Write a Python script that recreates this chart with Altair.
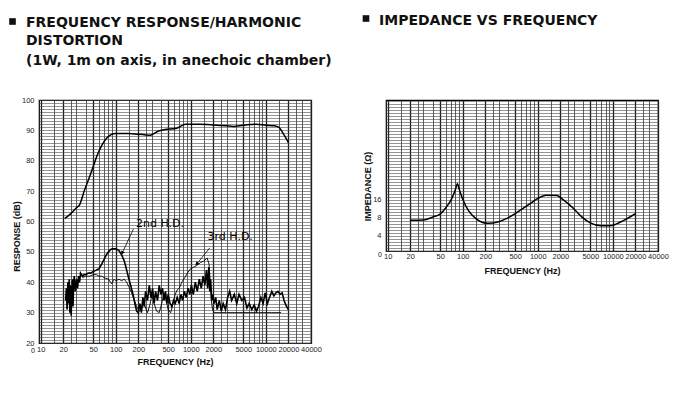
import altair as alt
import pandas as pd

FONT = "Liberation Sans"
TFONT = "DejaVu Sans"

# ---------------- data ----------------
resp_freq = [21, 25, 30, 33, 38, 46, 50, 56, 65, 76, 88, 100, 150, 200, 250, 290, 370,
             450, 650, 750, 850, 1000, 1300, 2000, 3000, 3700, 5000, 7500, 10000, 13000,
             15000, 17000, 20000]
resp_db = [61, 62.5, 64.5, 65.5, 70, 75.5, 78, 81.5, 85, 87.5, 88.7, 89, 89, 88.7, 88.5,
           88.4, 89.8, 90.3, 90.7, 91.5, 92, 92, 92, 91.8, 91.5, 91.3, 91.7, 92, 91.7, 91.5,
           91, 89, 86]

hd2_freq = [21.5, 22, 22.5, 23, 23.5, 24, 24.5, 25, 25.5, 26, 26.5, 27, 27.5, 28, 29, 30,
            31, 32, 33, 34, 36, 38, 40, 43, 46, 50, 55, 60, 65, 70, 75, 80, 85, 90, 100,
            110, 120, 130, 140, 150, 160, 170, 180, 190, 200,
            210, 220, 230, 240, 250, 265, 280, 295, 310, 325, 340, 360, 380, 400, 420, 440,
            460, 480, 500, 530, 560, 590, 620, 660, 700, 740, 780, 820, 870, 920, 970, 1020,
            1080, 1150, 1220, 1300, 1380, 1460, 1540, 1620, 1680, 1740, 1790, 1840, 1900,
            1960, 2050, 2150, 2250, 2400, 2550, 2700, 2900, 3100, 3300, 3500, 3800, 4100,
            4400, 4800, 5200, 5600, 6000, 6500, 7000, 7500, 8000, 8600, 9200, 9800, 10500,
            11200, 12000, 12800, 13600, 14500, 15500, 16500, 17500, 18500, 19500, 20000]
hd2_db = [34, 38, 31, 40, 33, 41, 30, 39, 29, 37, 41, 32, 40, 42, 37, 41,
          38, 42, 40, 43, 42, 42.5, 42.5, 43, 43, 43.5, 44, 44.5, 46, 47.5, 49, 50, 50.7, 51, 51,
          50.5, 49, 47, 44, 41, 38.5, 36, 33, 30.5, 30,
          33, 30, 35, 32, 37, 34, 39, 35, 38, 33, 37, 34, 39, 36, 38, 34,
          37, 33, 36, 33, 32, 34, 33, 35, 33, 36, 34, 37, 35, 38, 36, 39,
          36, 40, 37, 41, 38, 42, 39, 44, 38, 45, 37, 41, 34,
          36, 33, 35, 31, 34, 30.5, 33, 31, 35, 37, 34, 36, 33,
          36, 34, 35, 31.5, 33, 31, 32.5, 30.5, 32, 35, 33, 36.5, 33,
          35, 37, 35.5, 36.5, 37, 36, 36.5, 34, 32.5, 31.5, 31]

hd3_freq = [36, 40, 45, 50, 55, 60, 65, 70, 80, 88, 95, 100, 110, 120, 130, 140, 150, 160,
            175, 190, 205, 220, 235, 250, 265, 285, 305, 325, 350, 380, 410, 440, 470, 500,
            540, 580, 620, 660, 700, 760, 830, 900, 1000, 1100, 1200, 1350, 1500, 1650, 1750,
            1820, 1880, 1950, 2050, 3000, 5000, 8000, 12000, 16000]
hd3_db = [41.5, 42, 42, 42.5, 42.5, 42, 42, 41.5, 41, 39.5, 41, 40.5, 41, 40.5, 41, 40, 38.5,
          37, 34.5, 32, 30.5, 31, 34, 31.5, 30, 32.5, 36, 33, 30.5, 30, 33, 36.5, 34, 31,
          30, 33, 36, 37.5, 38, 40, 41.5, 43, 44.5, 45, 45.5, 46.5, 47, 48, 46,
          40, 34, 31, 30, 30, 30, 30, 30, 30]

imp_freq = [20, 30, 40, 50, 60, 70, 80, 85, 90, 100, 120, 150, 180, 220, 300, 400, 600, 800,
            1000, 1300, 1800, 2200, 3000, 4000, 5000, 7000, 9000, 11000, 14000, 20000]
imp_ohm = [7.3, 7.4, 8.3, 9.3, 12, 16, 24, 30, 24, 16.5, 10.5, 7.8, 6.8, 6.5, 6.9, 8.0, 11,
           14, 17, 19.2, 19, 16, 11.5, 8, 6.6, 5.9, 5.9, 6.3, 7.3, 9.4]

freq_labels = [10, 20, 50, 100, 200, 500, 1000, 2000, 5000, 10000, 20000, 40000]
db_labels = [20, 30, 40, 50, 60, 70, 80, 90, 100]
ohm_labels = [4, 8, 16]

title_left = ["FREQUENCY RESPONSE/HARMONIC", "DISTORTION", "(1W, 1m on axis, in anechoic chamber)"]
title_right = "IMPEDANCE VS FREQUENCY"

ann_text = ["2nd H.D.", "3rd H.D."]
ann_f = [390, 3350]
ann_db = [59.2, 55]
arrow_f1 = [172, 1790]
arrow_db1 = [57.5, 51.3]
arrow_f2 = [122, 1200]
arrow_db2 = [49.6, 46]

# ---------------- helpers ----------------
grid_mult = [1, 1.5, 2, 2.5, 3, 4, 5, 6, 7, 8, 9]
x_grid = sorted(set([m * 10 ** k for k in range(1, 5) for m in grid_mult if m * 10 ** k <= 40000]
                    + freq_labels))
lab_arr = "[" + ",".join(str(v) for v in freq_labels) + "]"
x_label_expr = f"indexof({lab_arr}, datum.value) >= 0 ? format(datum.value, 'd') : ''"
x_grid_width = {"condition": {"test": f"indexof({lab_arr}, datum.value) >= 0", "value": 1.3},
                "value": 0.7}

db_arr = "[" + ",".join(str(v) for v in db_labels) + "]"
ohm_arr = "[" + ",".join(str(v) for v in ohm_labels) + "]"

xscale = alt.Scale(type="log", domain=[9.5, 40000], nice=False)

W = 272
HL = 243
HR = 151


def xaxis(pad, ty):
    return alt.Axis(values=x_grid, labelExpr=x_label_expr, labelOverlap=False, labelFlush=False,
                    labelBound=False, ticks=False, domain=False, gridColor="#1a1a1a",
                    gridWidth=x_grid_width, labelPadding=pad, labelFontSize=7.5,
                    title="FREQUENCY (Hz)", titleFontSize=9, titleFontWeight="bold",
                    titleY=ty, titleBaseline="middle")


def text_at(txt, x, y, size=14, bold=True, align="left", font=TFONT):
    return alt.Chart(pd.DataFrame({"t": [txt]})).mark_text(
        font=font, fontSize=size, fontWeight="bold" if bold else "normal", align=align,
        baseline="middle", color="#111").encode(x=alt.value(x), y=alt.value(y), text="t:N")


def bullet(x, y):
    return alt.Chart(pd.DataFrame({"t": [0]})).mark_square(
        size=44, color="#111", opacity=1).encode(x=alt.value(x), y=alt.value(y))


# ---------------- left panel ----------------
resp_df = pd.DataFrame({"f": resp_freq, "v": resp_db})
hd2_df = pd.DataFrame({"f": hd2_freq, "v": hd2_db})
hd3_df = pd.DataFrame({"f": hd3_freq, "v": hd3_db})

yl_axis = alt.Axis(values=list(range(20, 101)),
                   labelExpr=f"indexof({db_arr}, datum.value) >= 0 ? datum.label : ''",
                   labelOverlap=False, ticks=False, domain=False, gridColor="#4a4a4a",
                   gridWidth=0.6, labelPadding=5, labelFontSize=7.5,
                   title="RESPONSE (dB)", titleFontSize=9, titleFontWeight="bold",
                   titleX=-18, titleY=136)
xl = alt.X("f:Q", scale=xscale, axis=xaxis(2, 18))
yl = alt.Y("v:Q", scale=alt.Scale(domain=[20, 100], nice=False), axis=yl_axis)

resp_line = alt.Chart(resp_df).mark_line(color="black", strokeWidth=1.5,
                                         interpolate="monotone").encode(x=xl, y=yl)
hd2_line = alt.Chart(hd2_df).mark_line(color="black", strokeWidth=1.6).encode(x=xl, y=yl)
hd3_line = alt.Chart(hd3_df).mark_line(color="black", strokeWidth=0.9).encode(x=xl, y=yl)

ann_df = pd.DataFrame({"t": ann_text, "f": ann_f, "v": ann_db})
arrow_df = pd.DataFrame({"f": arrow_f1, "v": arrow_db1, "f2": arrow_f2, "v2": arrow_db2})
head_df = pd.DataFrame({"f": arrow_f2, "v": arrow_db2})

ann_txt = alt.Chart(ann_df).mark_text(font=TFONT, fontSize=11, color="black").encode(
    x=xl, y=yl, text="t:N")
ann_rule = alt.Chart(arrow_df).mark_rule(color="black", strokeWidth=0.8).encode(
    x=xl, x2="f2:Q", y=yl, y2="v2:Q")
head2 = alt.Chart(head_df.iloc[[0]]).mark_point(shape="triangle-up", filled=True, size=18,
                                               color="black", angle=205, opacity=1).encode(
    x=xl, y=yl)
head3 = alt.Chart(head_df.iloc[[1]]).mark_point(shape="triangle-up", filled=True, size=18,
                                               color="black", angle=219, opacity=1).encode(
    x=xl, y=yl)

left = alt.layer(
    resp_line, hd2_line, hd3_line, ann_rule, head2, head3, ann_txt,
    bullet(-26.5, -78.5),
    text_at(title_left[0], -13, -77),
    text_at(title_left[1], -13, -59),
    text_at(title_left[2], -13, -39),
    text_at("0", -6, HL + 8, size=7, bold=False, align="center", font=FONT),
).properties(width=W, height=HL)

# ---------------- right panel ----------------
imp_df = pd.DataFrame({"f": imp_freq, "v": imp_ohm})
y_grid_r = [16 * 2 ** (k / 6) for k in range(-17, 34)]
yr_axis = alt.Axis(values=y_grid_r,
                   labelExpr=f"indexof({ohm_arr}, datum.value) >= 0 ? format(datum.value, 'd') : ''",
                   labelOverlap=False, ticks=False, domain=False, gridColor="#4a4a4a",
                   gridWidth=0.6, labelPadding=5, labelFontSize=7.5,
                   title="IMPEDANCE (\u03a9)", titleFontSize=9, titleFontWeight="bold",
                   titleX=-14, titleY=86)
xr = alt.X("f:Q", scale=xscale, axis=xaxis(1, 19))
yr = alt.Y("v:Q", scale=alt.Scale(type="log", domain=[2.24, 752], nice=False), axis=yr_axis)

imp_line = alt.Chart(imp_df).mark_line(color="black", strokeWidth=1.5,
                                       interpolate="monotone").encode(x=xr, y=yr)

right = alt.layer(
    imp_line,
    bullet(-20, -81.5),
    text_at(title_right, -7, -79),
    text_at("0", -6, HR + 4, size=7, bold=False, align="center", font=FONT),
).properties(width=W, height=HR)

chart = alt.hconcat(left, right, spacing=75, bounds="flush").properties(
    padding={"left": 0, "top": 5, "right": 10, "bottom": 5}
).configure_view(stroke="black", strokeWidth=1.2).configure_axis(
    labelFont=FONT, titleFont=FONT, labelColor="#222", titleColor="#111"
)

chart.save("out.html", embed_options={"renderer": "svg", "actions": False})
